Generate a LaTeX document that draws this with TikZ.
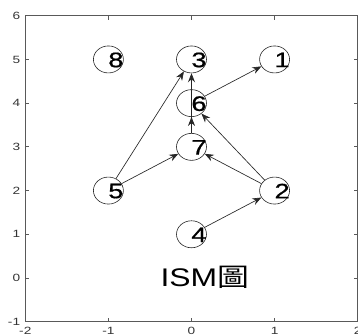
\documentclass[tikz,border=0pt]{standalone}
\usepackage{fontspec}
\usepackage{graphicx}
\setmainfont{Liberation Sans}
\newfontfamily\numfont[FakeBold=0.7]{Liberation Sans}
\newfontfamily\cjk{Noto Sans CJK TC}
\usetikzlibrary{arrows.meta,shapes.geometric}
\tikzset{
  vert/.style={draw=black!85, line width=0.6pt, ellipse, minimum width=30pt, minimum height=27pt, inner sep=0pt},
  num/.style={inner sep=0pt, font=\numfont\fontsize{21}{21}\selectfont},
  tlab/.style={inner sep=0pt, font=\fontsize{10.5}{10.5}\selectfont, text=black!80},
  edge/.style={draw=black!85, line width=0.65pt, -{Stealth[length=9pt,width=7pt,inset=3pt]}},
  spine/.style={draw=black!65, line width=0.9pt},
}
\newcommand{\sx}[1]{\scalebox{1.3}[1]{#1}}
\begin{document}
\begin{tikzpicture}[x=83.1pt,y=43.71pt]
\useasboundingbox (-2.3045,-1.304) rectangle (2.0036,6.360);
\fill[white] (-2.3045,-1.304) rectangle (2.0036,6.360);
% axes box
\draw[spine] (-2,-1) rectangle (2,6);
\foreach \v in {-1,0,1}{
  \draw[spine] (\v,-1) -- ++(0,4pt);
  \draw[spine] (\v,6) -- ++(0,-4pt);
}
\foreach \v in {0,...,5}{
  \draw[spine] (-2,\v) -- ++(4pt,0);
  \draw[spine] (2,\v) -- ++(-4pt,0);
}
\foreach \v in {-1,...,6}{
  \node[tlab, anchor=east] (yl\v) at ([xshift=-5pt]-2,\v) {\sx{\v}};
}
\foreach \v/\n in {-2/a,-1/b,0/c,1/d,2/e}{
  \node[tlab, anchor=north] (xl\n) at ([yshift=-5pt]\v,-1) {\sx{\v}};
}
% nodes
\node[vert] (n1) at (1,5) {};
\node[vert] (n2) at (1,2) {};
\node[vert] (n3) at (0,5) {};
\node[vert] (n4) at (0,1) {};
\node[vert] (n5) at (-1,2) {};
\node[vert] (n6) at (0,4) {};
\node[vert] (n7) at (0,3) {};
\node[vert] (n8) at (-1,5) {};
\foreach \k in {1,...,8}{
  \node[num] (t\k) at ([xshift=7.5pt,yshift=-0.5pt]n\k.center) {\sx{\k}};
}
% edges
\draw[edge] (n5) -- (n3);
\draw[edge] (n5) -- (n7);
\draw[edge] (n7) -- (n3);
\draw[edge] (n7) -- (n6);
\draw[edge] (n6) -- (n1);
\draw[edge] (n2) -- (n6);
\draw[edge] (n2) -- (n7);
\draw[edge] (n4) -- (n2);
% title
\node[inner sep=0pt, anchor=base west, font=\fontsize{25.5}{25.5}\selectfont] (ttl) at (-0.375,-0.206) {\scalebox{1.25}[1]{ISM{\cjk 圖}}};
\end{tikzpicture}
\end{document}
